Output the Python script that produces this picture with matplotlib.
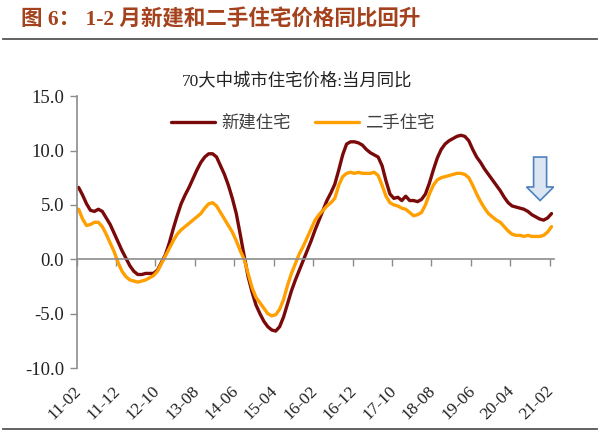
import matplotlib
matplotlib.use("Agg")
import matplotlib.pyplot as plt
from matplotlib.lines import Line2D
from matplotlib.patches import FancyArrow
import pandas as pd

plt.rcParams['font.family'] = ['Liberation Serif', 'Noto Sans CJK SC', 'DejaVu Sans']

# monthly categories 2011-02 .. 2021-02
months = pd.period_range('2011-02', '2021-02', freq='M').strftime('%y-%m').tolist()

# 70大中城市 新建住宅价格 当月同比 (%)
new_home = [
    6.6, 5.9, 5.1, 4.5, 4.4, 4.6, 4.4, 3.8, 3.2, 2.4,
    1.6, 0.8, 0.1, -0.6, -1.1, -1.4, -1.4, -1.3, -1.3, -1.3,
    -1.0, -0.3, 0.4, 1.5, 2.8, 4.0, 5.1, 5.9, 6.6, 7.4,
    8.2, 8.9, 9.4, 9.7, 9.7, 9.4, 8.6, 7.8, 6.8, 5.6,
    4.2, 2.3, 0.3, -1.6, -3.0, -4.2, -5.0, -5.7, -6.2, -6.5,
    -6.6, -6.2, -5.3, -4.1, -2.9, -1.9, -1.0, -0.1, 0.8, 1.7,
    2.7, 3.6, 4.5, 5.4, 6.1, 6.9, 8.2, 9.6, 10.6, 10.8,
    10.8, 10.7, 10.5, 10.1, 9.8, 9.6, 9.4, 8.6, 7.2, 6.0,
    5.6, 5.7, 5.4, 5.8, 5.4, 5.4, 5.3, 5.5, 6.0, 7.0,
    8.2, 9.3, 10.1, 10.6, 10.9, 11.1, 11.3, 11.4, 11.3, 10.9,
    10.1, 9.4, 8.9, 8.3, 7.8, 7.3, 6.8, 6.3, 5.7, 5.2,
    4.9, 4.8, 4.7, 4.6, 4.4, 4.1, 3.9, 3.7, 3.6, 3.8,
    4.2,
]

# 70大中城市 二手住宅价格 当月同比 (%)
second_hand = [
    4.6, 3.7, 3.1, 3.2, 3.4, 3.4, 3.0, 2.3, 1.5, 0.7,
    -0.3, -1.1, -1.6, -1.9, -2.0, -2.1, -2.0, -1.9, -1.7, -1.5,
    -1.1, -0.4, 0.3, 1.0, 1.7, 2.3, 2.7, 3.0, 3.3, 3.6,
    3.9, 4.2, 4.7, 5.1, 5.2, 4.9, 4.3, 3.7, 3.1, 2.5,
    1.7, 0.8, 0.0, -1.3, -2.6, -3.5, -4.0, -4.5, -5.0, -5.2,
    -5.1, -4.6, -3.7, -2.4, -1.3, -0.4, 0.5, 1.2, 2.0, 2.8,
    3.6, 4.1, 4.5, 4.9, 5.2, 5.6, 6.8, 7.6, 7.9, 8.0,
    7.9, 8.0, 7.9, 7.9, 7.9, 8.0, 7.7, 6.8, 5.8, 5.2,
    5.0, 4.9, 4.7, 4.6, 4.3, 4.0, 4.1, 4.3, 5.0, 6.0,
    6.8, 7.3, 7.5, 7.6, 7.7, 7.8, 7.9, 7.9, 7.8, 7.5,
    6.8, 6.0, 5.3, 4.7, 4.2, 3.9, 3.6, 3.4, 3.0, 2.6,
    2.3, 2.2, 2.2, 2.1, 2.2, 2.1, 2.1, 2.1, 2.2, 2.5,
    3.0,
]

y_ticks = [-10, -5, 0, 5, 10, 15]
label_step = 10

red = '#7A0A0A'
orange = '#FF9F00'
axis_gray = '#8C8C8C'
text_gray = '#404040'

fig = plt.figure(figsize=(6, 4.33), dpi=100)
ax = fig.add_axes([0.1278, 0.150, 0.7947, 0.628])

x = list(range(len(months)))
ax.plot(x, new_home, color=red, lw=2.4, label='新建住宅', solid_capstyle='round')
ax.plot(x, second_hand, color=orange, lw=2.4, label='二手住宅', solid_capstyle='round')

ax.set_xlim(-0.5, len(months) - 0.5)
ax.set_ylim(-10, 15)
ax.set_yticks(y_ticks)
ax.set_yticklabels([f'{v:.1f}' for v in y_ticks], fontsize=13.5, color='#222222')
ax.tick_params(axis='y', direction='out', length=5, width=1, color=axis_gray, pad=4)

for s in ['top', 'right']:
    ax.spines[s].set_visible(False)
ax.spines['left'].set_color(axis_gray)
ax.spines['left'].set_linewidth(1.2)
ax.spines['bottom'].set_position(('data', 0))
ax.spines['bottom'].set_color(axis_gray)
ax.spines['bottom'].set_linewidth(1.2)

# tick marks on the zero line between categories
ax.set_xticks([i - 0.5 for i in range(0, len(months), label_step)])
ax.set_xticklabels([])
ax.tick_params(axis='x', direction='out', length=5, width=1, color=axis_gray)

# category labels at the bottom of the plot
ax2 = ax.twiny()
ax2.set_xlim(ax.get_xlim())
ax2.xaxis.set_ticks_position('bottom')
ax2.xaxis.set_label_position('bottom')
for s in ax2.spines.values():
    s.set_visible(False)
pos = list(range(0, len(months), label_step))
ax2.set_xticks(pos)
ax2.set_xticklabels([months[i] for i in pos], fontsize=12.5, rotation=45,
                    ha='right', va='center', rotation_mode='anchor', color='#222222')
ax2.tick_params(axis='x', length=0, pad=15)

# hollow blue arrow pointing at the latest readings
arrow = FancyArrow(117.1, 9.4, 0, -4.0, width=3.3, head_width=6.9, head_length=1.25,
                   length_includes_head=True, facecolor='#DCE6F2', edgecolor='#4F81BD',
                   linewidth=1.2)
ax.add_patch(arrow)

ax.legend(loc='center left', bbox_to_anchor=(171 / 600, 1 - 123.5 / 433),
          bbox_transform=fig.transFigure, ncol=2, frameon=False, fontsize=12.5,
          handlelength=2.55, handletextpad=0.35, columnspacing=1.4,
          borderpad=0, borderaxespad=0, labelcolor=text_gray)

fig.text(297 / 600, 1 - 81 / 433, '70大中城市住宅价格:当月同比', ha='center', va='center',
         fontsize=12.5, color='#222222')
fig.text(21 / 600, 1 - 20 / 433, '图 6： 1-2 月新建和二手住宅价格同比回升', ha='left',
         va='center', fontsize=15.5, fontweight='bold', color='#A3421C')

fig.add_artist(Line2D([0.005, 0.995], [1 - 39 / 433] * 2, transform=fig.transFigure,
                      color='#555555', lw=1.3))
fig.add_artist(Line2D([0.005, 0.995], [1 - 429 / 433] * 2, transform=fig.transFigure,
                      color='#555555', lw=1.3))

fig.savefig('out.png', dpi=100, facecolor='white')
